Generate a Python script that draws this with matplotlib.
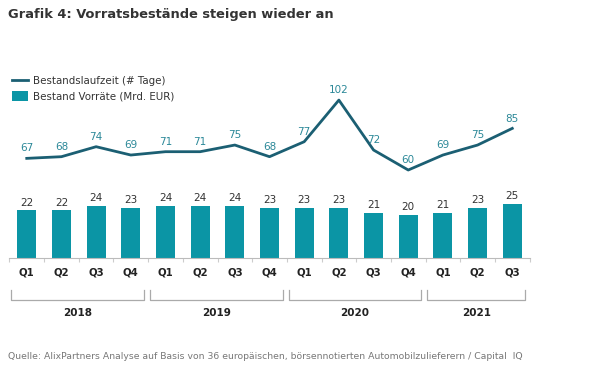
import matplotlib.pyplot as plt
from matplotlib.lines import Line2D
from matplotlib.patches import Patch

# Daten
quartale = ["Q1", "Q2", "Q3", "Q4", "Q1", "Q2", "Q3", "Q4",
            "Q1", "Q2", "Q3", "Q4", "Q1", "Q2", "Q3"]
jahre = ["2018", "2019", "2020", "2021"]
quartale_pro_jahr = [4, 4, 4, 3]
bestand_vorraete = [22, 22, 24, 23, 24, 24, 24, 23, 23, 23, 21, 20, 21, 23, 25]
bestandslaufzeit = [67, 68, 74, 69, 71, 71, 75, 68, 77, 102, 72, 60, 69, 75, 85]

farbe_balken = "#0b95a5"
farbe_linie = "#1b5f73"
farbe_linie_text = "#2b8898"
farbe_text = "#333333"

fig = plt.figure(figsize=(6, 3.69), dpi=100)
ax = fig.add_axes([0.0157, 0.301, 0.867, 0.509])
x = list(range(len(quartale)))

ax.bar(x, bestand_vorraete, width=0.55, color=farbe_balken)
for xi, v in zip(x, bestand_vorraete):
    ax.annotate(str(v), (xi, v), xytext=(0, 2), textcoords="offset points",
                ha="center", va="bottom", fontsize=7.5, color=farbe_text)

ax.set_xlim(-0.5, len(quartale) - 0.5)
ax.set_ylim(0, 87)
ax.set_yticks([])
for s in ["top", "right", "left"]:
    ax.spines[s].set_visible(False)
ax.spines["bottom"].set_color("#bbbbbb")
ax.spines["bottom"].set_linewidth(0.8)

# Trennstriche zwischen den Quartalen
ax.set_xticks([i - 0.5 for i in range(len(quartale) + 1)], minor=False)
ax.set_xticklabels([])
ax.tick_params(axis="x", length=3, color="#cccccc", width=0.8)
for xi, q in zip(x, quartale):
    ax.text(xi, -0.075, q, transform=ax.get_xaxis_transform(), ha="center",
            va="center", fontsize=7.3, fontweight="bold", color="#222222")

# Klammern und Jahre
start = 0
for jahr, n in zip(jahre, quartale_pro_jahr):
    links = start - 0.45
    rechts = start + n - 1 + 0.38
    trans = ax.get_xaxis_transform()
    ax.plot([links, links, rechts, rechts], [-0.17, -0.225, -0.225, -0.17],
            transform=trans, color="#aaaaaa", lw=0.9, clip_on=False)
    ax.text((links + rechts) / 2, -0.295, jahr, transform=trans, ha="center",
            va="center", fontsize=7.5, fontweight="bold", color="#222222")
    start += n

# Linie auf zweiter Achse
ax2 = ax.twinx()
ax2.plot(x, bestandslaufzeit, color=farbe_linie, lw=2)
ax2.set_ylim(7.2, 120)
ax2.axis("off")
for xi, v in zip(x, bestandslaufzeit):
    ax2.annotate(str(v), (xi, v), xytext=(0, 3.5), textcoords="offset points",
                 ha="center", va="bottom", fontsize=7.5, color=farbe_linie_text)

# Legende
handles = [Line2D([0], [0], color=farbe_linie, lw=2),
           Patch(facecolor=farbe_balken)]
fig.legend(handles, ["Bestandslaufzeit (# Tage)", "Bestand Vorräte (Mrd. EUR)"],
           loc="upper left", bbox_to_anchor=(0.005, 0.82), frameon=False,
           fontsize=7.4, handlelength=1.5, handleheight=1.05,
           handletextpad=0.5, labelspacing=0.5, labelcolor=farbe_text)

fig.text(0.013, 0.96, "Grafik 4: Vorratsbestände steigen wieder an",
         fontsize=9.4, fontweight="bold", color=farbe_text, va="center")
fig.text(0.013, 0.033,
         "Quelle: AlixPartners Analyse auf Basis von 36 europäischen, "
         "börsennotierten Automobilzulieferern / Capital  IQ",
         fontsize=6.7, color="#777777", va="center")

fig.savefig("out.png", dpi=100)
